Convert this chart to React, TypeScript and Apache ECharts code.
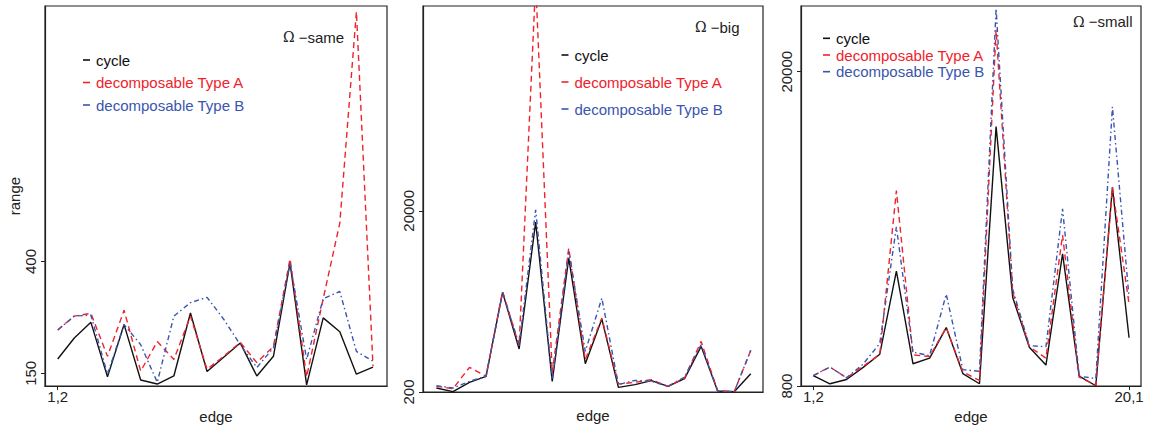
import React, { useEffect, useRef } from "react";
import * as echarts from "echarts";

// edge positions 1..20 ("1,2" ... "20,1")
const edgeIndex = [1, 2, 3, 4, 5, 6, 7, 8, 9, 10, 11, 12, 13, 14, 15, 16, 17, 18, 19, 20];
const edgeTickLabels: Record<number, string> = { 1: "1,2", 20: "20,1" };

// Ω-same
const sameCycle = [182, 229, 264, 142, 259, 135, 126, 144, 285, 154, 186, 218, 144, 188, 397, 124, 274, 243, 148, 164];
const sameTypeA = [247, 278, 284, 188, 291, 155, 221, 181, 278, 159, 188, 219, 174, 210, 406, 142, 317, 486, 959, 166];
const sameTypeB = [247, 278, 280, 148, 259, 214, 130, 278, 308, 320, 271, 214, 163, 207, 397, 181, 317, 333, 199, 177];

// Ω-big
const bigCycle = [637, 236, 1256, 1911, 11084, 4896, 18764, 1365, 14834, 3294, 8172, 710, 1001, 1438, 819, 1656, 5187, 309, 236, 2202];
const bigTypeA = [819, 564, 2894, 1911, 11193, 5260, 45000, 2300, 15926, 3731, 8281, 1074, 1256, 1547, 819, 1729, 5733, 309, 236, 4750];
const bigTypeB = [892, 637, 1365, 1911, 11084, 5369, 20108, 1547, 15554, 4641, 10465, 1001, 1474, 1365, 819, 1838, 5369, 309, 236, 4750];

// Ω-small
const smallCycle = [1444, 943, 1203, 1945, 2748, 7821, 2164, 2507, 4373, 1564, 943, 16647, 6216, 3168, 2086, 8884, 1404, 822, 12936, 3751];
const smallTypeA = [1444, 1965, 1303, 2006, 2748, 12736, 2707, 2607, 4373, 1664, 1143, 22565, 6517, 3208, 2507, 10028, 1344, 862, 12936, 5815];
const smallTypeB = [1444, 1965, 1303, 2146, 3407, 10529, 2867, 2667, 6417, 1805, 1705, 23869, 6718, 3268, 3208, 11632, 1404, 1263, 17851, 6216];

const seriesNames = ["cycle", "decomposable Type A", "decomposable Type B"];
const panelTitles = ["same", "big", "small"];
const yTicks = [
  [150, 400],
  [200, 20000],
  [800, 20000],
];
const xTicks = [[1], [], [1, 20]];

const COLORS = ["#111111", "#f0222b", "#3a55ae"];
const DASHES: any[] = ["solid", [6, 4], [5, 3, 1.5, 3]];
const FONT = "Liberation Sans, Arial, Helvetica, sans-serif";

const panels = [
  {
    data: [sameCycle, sameTypeA, sameTypeB],
    grid: { left: 45, top: 6, width: 342, height: 386 },
    xRange: [0.234, 20.844],
    yRange: [121.4, 971.5],
    legend: { left: 83, top: 52, gap: 6.5 },
    title: { x: 283, y: 37.3 },
  },
  {
    data: [bigCycle, bigTypeA, bigTypeB],
    grid: { left: 423, top: 6, width: 340, height: 386 },
    xRange: [0.19, 20.74],
    yRange: [200, 42388],
    legend: { left: 561.5, top: 47, gap: 11 },
    title: { x: 695, y: 27.3 },
  },
  {
    data: [smallCycle, smallTypeA, smallTypeB],
    grid: { left: 801, top: 6, width: 340, height: 386 },
    xRange: [0.26, 20.72],
    yRange: [800, 24014],
    legend: { left: 823, top: 30.3, gap: 0.7 },
    title: { x: 1073, y: 21.7 },
  },
];

export default function App() {
  const ref = useRef<HTMLDivElement>(null);
  useEffect(() => {
    if (!ref.current) return;
    const chart = echarts.init(ref.current, undefined, { renderer: "svg" });

    const grid = panels.map((p) => ({
      ...p.grid,
      show: true,
      borderColor: "#222",
      borderWidth: 1.2,
      backgroundColor: "transparent",
      containLabel: false,
    }));

    const xAxis = panels.map((p, i) => ({
      gridIndex: i,
      type: "value",
      min: p.xRange[0],
      max: p.xRange[1],
      splitLine: { show: false },
      axisLine: { show: true, lineStyle: { color: "#222", width: 1.2 } },
      axisTick: {
        show: xTicks[i].length > 0,
        customValues: xTicks[i],
        length: 4,
        lineStyle: { color: "#222" },
      },
      axisLabel: {
        show: xTicks[i].length > 0,
        customValues: xTicks[i],
        formatter: (v: number) => edgeTickLabels[v] ?? "",
        margin: 3,
        fontSize: 15,
        fontFamily: FONT,
        color: "#222",
      },
      name: "edge",
      nameLocation: "middle",
      nameGap: 16,
      nameTextStyle: { fontSize: 15, fontFamily: FONT, color: "#222" },
    }));

    const yAxis = panels.map((p, i) => ({
      gridIndex: i,
      type: "value",
      min: p.yRange[0],
      max: p.yRange[1],
      splitLine: { show: false },
      axisLine: { show: true, lineStyle: { color: "#222", width: 1.2 } },
      axisTick: {
        show: true,
        customValues: yTicks[i],
        length: 4,
        lineStyle: { color: "#222" },
      },
      axisLabel: {
        customValues: yTicks[i],
        formatter: (v: number) => String(v),
        rotate: 90,
        margin: 7,
        fontSize: 15,
        fontFamily: FONT,
        color: "#222",
      },
      name: i === 0 ? "range" : "",
      nameLocation: "middle",
      nameRotate: 90,
      nameGap: 13,
      nameTextStyle: { fontSize: 15, fontFamily: FONT, color: "#222" },
    }));

    const series: any[] = [];
    panels.forEach((p, pi) => {
      p.data.forEach((vals, si) => {
        series.push({
          type: "line",
          name: seriesNames[si],
          xAxisIndex: pi,
          yAxisIndex: pi,
          data: vals.map((v, k) => [edgeIndex[k], v]),
          symbol: "none",
          showSymbol: false,
          clip: true,
          lineStyle: { color: COLORS[si], width: 1.4, type: DASHES[si] },
          itemStyle: { color: COLORS[si] },
          z: 2 + si,
        });
      });
    });

    const legend = panels.map((p) => ({
      left: p.legend.left,
      top: p.legend.top,
      orient: "vertical",
      padding: 0,
      itemGap: p.legend.gap,
      itemWidth: 7,
      itemHeight: 1.6,
      icon: "rect",
      selectedMode: false,
      data: seriesNames.map((n, si) => ({
        name: n,
        textStyle: { color: COLORS[si] },
      })),
      textStyle: { fontSize: 15, fontFamily: FONT, lineHeight: 16, padding: [0, 0, 0, 1] },
    }));

    const graphic = panels.map((p, i) => ({
      type: "text",
      x: p.title.x,
      y: p.title.y,
      style: {
        text: "{o|Ω} −" + panelTitles[i],
        fontSize: 15,
        fontFamily: FONT,
        fill: "#222",
        verticalAlign: "middle",
        rich: {
          o: { fontFamily: "DejaVu Serif, Liberation Serif, serif", fontSize: 14, fill: "#222" },
        },
      },
    }));

    chart.setOption({
      animation: false,
      backgroundColor: "#ffffff",
      grid,
      xAxis,
      yAxis,
      series,
      legend,
      graphic,
    } as any);

    return () => chart.dispose();
  }, []);

  return (
    <div
      ref={ref}
      style={{ position: "absolute", left: 0, top: 0, width: 1150, height: 429 }}
    />
  );
}
